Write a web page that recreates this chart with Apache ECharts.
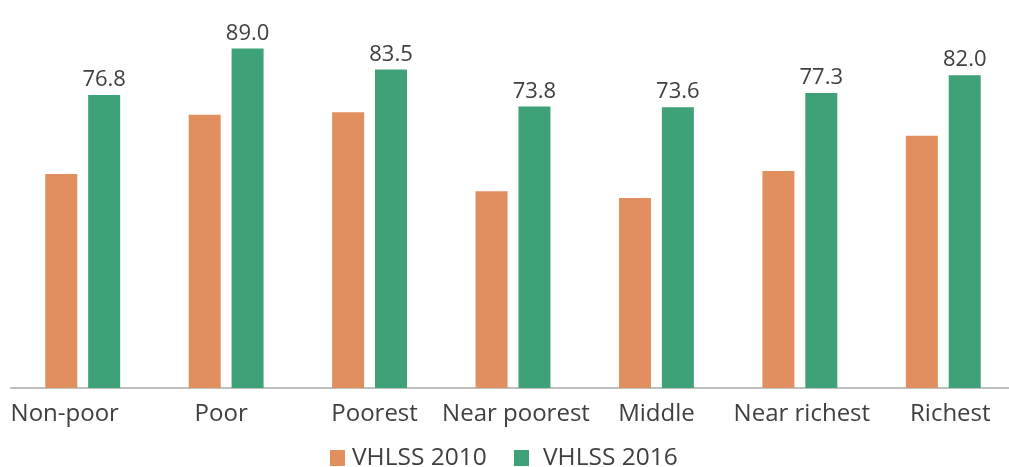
<!DOCTYPE html>
<html>
<head>
<meta charset="utf-8">
<script src="https://cdn.jsdelivr.net/npm/echarts@6/dist/echarts.min.js"></script>
<style>
  html, body { margin: 0; padding: 0; background: #ffffff; }
  #chart { width: 1009px; height: 467px; }
</style>
</head>
<body>
<div id="chart"></div>
<script>
// Household groups on the x axis
const categories = ['Non-poor', 'Poor', 'Poorest', 'Near poorest', 'Middle', 'Near richest', 'Richest'];
// Survey rounds
const seriesNames = ['VHLSS 2010', 'VHLSS 2016'];
const values2010 = [56.1, 71.6, 72.3, 51.6, 49.8, 56.9, 66.1];
const values2016 = [76.8, 89.0, 83.5, 73.8, 73.6, 77.3, 82.0];

// Horizontal nudge (px) for each category label
const labelShift = [-18, -5, 5, 3, 0, 2, 7];

const TEXT = '#404040';
const FONT = '"Open Sans", "Liberation Sans", sans-serif';

const rich = {};
labelShift.forEach((s, i) => {
  rich['c' + i] = {
    fontSize: 24,
    fontFamily: FONT,
    color: TEXT,
    padding: s >= 0 ? [0, 0, 0, 2 * s] : [0, -2 * s, 0, 0]
  };
});

const legendText = { fontSize: 24.5, fontFamily: FONT, color: TEXT, lineHeight: 26 };

const chart = echarts.init(document.getElementById('chart'), null, { renderer: 'canvas' });

chart.setOption({
  animation: false,
  backgroundColor: '#ffffff',
  grid: { left: 11, width: 1004, top: 6.5, bottom: 79, outerBoundsMode: 'none' },
  xAxis: {
    type: 'category',
    data: categories,
    axisLine: { show: true, lineStyle: { color: '#bfbfbf', width: 2 } },
    axisTick: { show: false },
    axisLabel: {
      interval: 0,
      margin: 14,
      formatter: (v, i) => '{c' + i + '|' + v + '}',
      rich: rich
    }
  },
  yAxis: {
    type: 'value',
    min: 0,
    max: 100,
    show: false,
    splitLine: { show: false }
  },
  legend: [
    {
      data: [seriesNames[0]],
      left: 330,
      top: 445,
      padding: 0,
      itemWidth: 15,
      itemHeight: 16,
      icon: 'rect',
      textStyle: Object.assign({ padding: [0, 0, 0, 2] }, legendText)
    },
    {
      data: [seriesNames[1]],
      left: 514,
      top: 445,
      padding: 0,
      itemWidth: 15,
      itemHeight: 16,
      icon: 'rect',
      textStyle: Object.assign({ padding: [0, 0, 0, 9] }, legendText)
    }
  ],
  series: [
    {
      name: seriesNames[0],
      type: 'bar',
      data: values2010,
      barWidth: 32,
      barGap: '34%',
      itemStyle: { color: '#E18F5E' }
    },
    {
      name: seriesNames[1],
      type: 'bar',
      data: values2016,
      barWidth: 32,
      itemStyle: { color: '#3EA177' },
      label: {
        show: true,
        position: 'top',
        distance: 4,
        fontSize: 22,
        fontFamily: FONT,
        color: TEXT,
        formatter: p => p.value.toFixed(1)
      }
    }
  ]
});
</script>
</body>
</html>
